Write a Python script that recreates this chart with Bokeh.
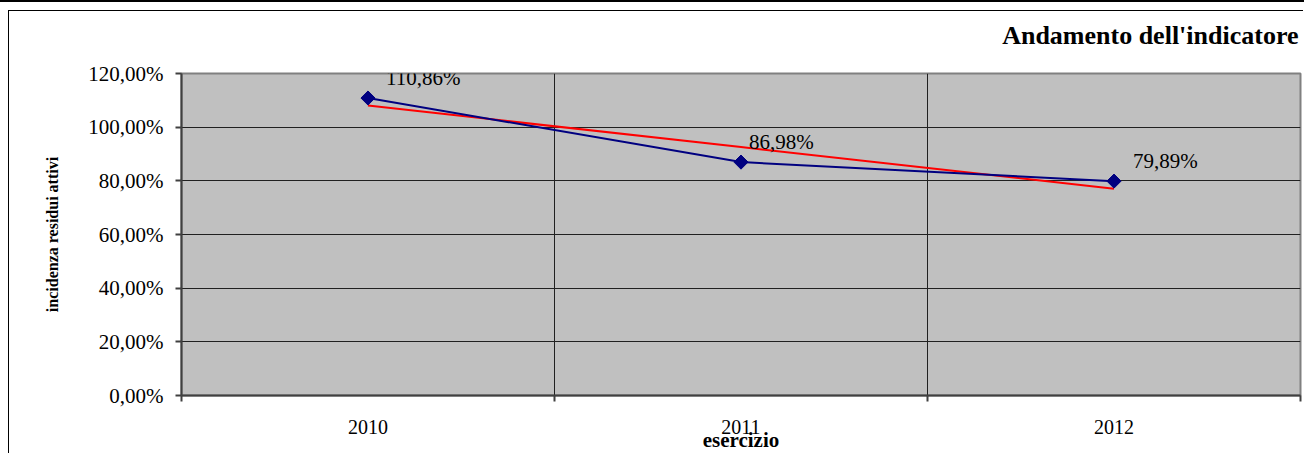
from math import pi
from bokeh.plotting import figure
from bokeh.models import FixedTicker, Range1d, ColumnDataSource, Title
from bokeh.embed import file_html
from bokeh.resources import INLINE
from bokeh.core.properties import value

# ---- data ----
years = ["2010", "2011", "2012"]
values = [110.86, 86.98, 79.89]
value_labels = ["110,86%", "86,98%", "79,89%"]
y_ticks = [0, 20, 40, 60, 80, 100, 120]
y_tick_labels = ["0,00%", "20,00%", "40,00%", "60,00%", "80,00%", "100,00%", "120,00%"]
title_text = "Andamento dell'indicatore"
y_title = "incidenza residui attivi"
x_title = "esercizio"

# ---- derived ----
xs = [i + 0.5 for i in range(len(years))]
n = len(values)
mx = sum(xs) / n
my = sum(values) / n
slope = sum((x - mx) * (y - my) for x, y in zip(xs, values)) / sum((x - mx) ** 2 for x in xs)
trend = [my + slope * (x - mx) for x in xs]

FONT = "Liberation Serif"

p = figure(width=1295, height=443, x_range=Range1d(0, len(years)), y_range=Range1d(0, 120),
           output_backend="svg", toolbar_location=None,
           min_border_left=172, min_border_right=4, min_border_top=62, min_border_bottom=59)
p.styles = {"margin-left": "8px", "margin-top": "10px",
            "border-left": "1px solid black", "border-top": "1px solid black",
            "box-shadow": "0px -459px 0px 8px black"}
p.background_fill_color = "#C0C0C0"
p.border_fill_color = "white"
p.outline_line_color = "#808080"
p.outline_line_width = 2

# spacer panel between frame and title, then the title itself
spacer = Title(text=" ", text_font_size="1px", standoff=20)
p.add_layout(spacer, "above")
title = Title(text=title_text, align="right", vertical_align="middle", standoff=0, offset=2,
              text_font=FONT, text_font_size="26px", text_font_style="bold",
              text_color="black")
p.add_layout(title, "above")

# y axis
p.yaxis.ticker = FixedTicker(ticks=y_ticks)
p.yaxis.major_label_overrides = {t: l for t, l in zip(y_ticks, y_tick_labels)}
p.yaxis.major_label_text_font = FONT
p.yaxis.major_label_text_font_size = "21px"
p.yaxis.major_label_text_color = "black"
p.yaxis.major_tick_out = 6
p.yaxis.major_tick_in = 0
p.yaxis.minor_tick_out = 0
p.yaxis.minor_tick_in = 0
p.yaxis.major_label_standoff = 12
p.yaxis.axis_line_color = "#404040"
p.yaxis.axis_line_width = 2
p.yaxis.major_tick_line_color = "#404040"
p.yaxis.major_tick_line_width = 2
p.yaxis.axis_label = y_title
p.yaxis.axis_label_text_font = FONT
p.yaxis.axis_label_text_font_size = "16px"
p.yaxis.axis_label_text_font_style = "bold"
p.yaxis.axis_label_text_color = "black"
p.yaxis.axis_label_standoff = 24

# x axis
p.xaxis.ticker = FixedTicker(ticks=xs, minor_ticks=list(range(len(years) + 1)))
p.xaxis.major_label_overrides = {x: y for x, y in zip(xs, years)}
p.xaxis.major_label_text_font = FONT
p.xaxis.major_label_text_font_size = "20px"
p.xaxis.major_label_text_color = "black"
p.xaxis.major_tick_out = 0
p.xaxis.major_tick_in = 0
p.xaxis.minor_tick_out = 6
p.xaxis.minor_tick_in = 0
p.xaxis.minor_tick_line_color = "#404040"
p.xaxis.minor_tick_line_width = 2
p.xaxis.major_label_standoff = 18
p.xaxis.axis_line_color = "#404040"
p.xaxis.axis_line_width = 2
p.xaxis.axis_label = x_title
p.xaxis.axis_label_text_font = FONT
p.xaxis.axis_label_text_font_size = "21px"
p.xaxis.axis_label_text_font_style = "bold"
p.xaxis.axis_label_text_color = "black"
p.xaxis.axis_label_standoff = -9

# grids
p.xgrid.ticker = FixedTicker(ticks=list(range(1, len(years))))
p.xgrid.grid_line_color = "#202020"
p.xgrid.grid_line_width = 1
p.ygrid.grid_line_color = "#202020"
p.ygrid.grid_line_width = 1

src = ColumnDataSource(dict(x=xs, y=values, trend=trend, lab=value_labels,
                            dx=[18, 8, 19]))

p.line("x", "trend", source=src, line_color="#FF0000", line_width=2)
p.line("x", "y", source=src, line_color="#000080", line_width=2)
p.scatter("x", "y", source=src, marker="square", angle=pi / 4, size=10,
          fill_color="#000080", line_color="#000080")
p.text("x", "y", text="lab", source=src, x_offset="dx", y_offset=-8,
       text_font=value(FONT), text_font_size="21px", text_color="black",
       text_align="left", text_baseline="bottom")

open("out.html", "w").write(file_html(p, INLINE))
